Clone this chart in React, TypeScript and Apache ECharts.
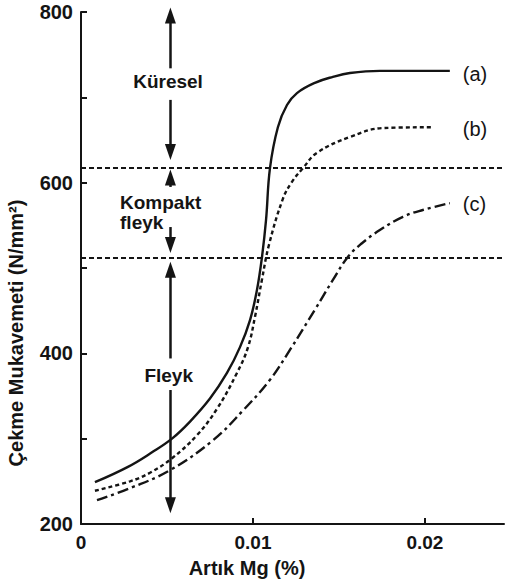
import React, { useEffect, useRef } from 'react';
import * as echarts from 'echarts';

const xTickLabels = [0, 0.01, 0.02];
const yTickLabels = [200, 400, 600, 800];

const curveA: [number, number][] = [
  [0.00081, 249], [0.00273, 267], [0.00413, 284], [0.00529, 300], [0.00634, 320],
  [0.0075, 347], [0.00849, 377], [0.00924, 407], [0.00983, 439], [0.01023, 474],
  [0.01052, 512], [0.01076, 556], [0.01099, 617], [0.01145, 665], [0.01198, 691],
  [0.01256, 705], [0.0136, 717], [0.01465, 724], [0.01564, 728.5], [0.01738, 731],
  [0.01971, 731], [0.02145, 731],
];
const curveB: [number, number][] = [
  [0.00081, 239], [0.00285, 250], [0.00401, 260], [0.00529, 277], [0.00674, 304],
  [0.00791, 335], [0.00907, 377], [0.00971, 407], [0.01012, 443], [0.01052, 486],
  [0.01093, 527], [0.01174, 581], [0.01227, 601], [0.01291, 617], [0.01372, 635],
  [0.01564, 653.5], [0.01756, 664], [0.02047, 665],
];
const curveC: [number, number][] = [
  [0.00093, 228], [0.00285, 242], [0.00517, 263], [0.00767, 298], [0.00942, 333],
  [0.01099, 369], [0.01215, 404], [0.0136, 451], [0.01465, 486], [0.01552, 513],
  [0.01634, 529], [0.01738, 544.5], [0.01872, 560], [0.01988, 568], [0.02145, 576],
];
const boundaryLevels = [617, 512];
const arrowX = 0.0052;
// [start, tip]
const arrowSegments: [number, number][] = [
  [734, 796], [697, 636], [595, 606], [548, 527], [394, 498], [357, 222],
];
const regionLabels = [
  { text: 'Küresel', x: 0.00506, y: 719, align: 'center' },
  { text: 'Kompakt', x: 0.00227, y: 577, align: 'left' },
  { text: 'fleyk', x: 0.00227, y: 553, align: 'left' },
  { text: 'Fleyk', x: 0.0051, y: 374, align: 'center' },
];
const curveLabelX = 0.0222;
const curveLabels = [
  { text: '(a)', y: 727 },
  { text: '(b)', y: 663 },
  { text: '(c)', y: 575 },
];

const FONT = "'Liberation Sans', Arial, Helvetica, sans-serif";
const INK = '#141414';

export default function App() {
  const ref = useRef<HTMLDivElement>(null);
  useEffect(() => {
    if (!ref.current) return;
    const chart = echarts.init(ref.current, undefined, { renderer: 'svg' });
    const txt = { fontFamily: FONT, fontWeight: 'bold' as const, fontSize: 19, color: INK };
    chart.setOption({
      animation: false,
      backgroundColor: '#ffffff',
      grid: { left: 81, right: 1, top: 12, bottom: 60, containLabel: false },
      xAxis: {
        type: 'value', min: 0, max: 0.0246, interval: 0.01,
        axisLine: { show: true, lineStyle: { color: INK, width: 2 } },
        axisTick: { show: true, inside: true, length: 6, lineStyle: { color: INK, width: 2 } },
        splitLine: { show: false },
        axisLabel: {
          ...txt, margin: 9, showMaxLabel: false,
          formatter: (v: number) => {
            const m = xTickLabels.find((t) => Math.abs(t - v) < 1e-7);
            return m === undefined ? '' : String(m);
          },
        },
      },
      yAxis: {
        type: 'value', min: 200, max: 800, interval: 100,
        axisLine: { show: true, lineStyle: { color: INK, width: 2 } },
        axisTick: { show: true, inside: true, length: 6, lineStyle: { color: INK, width: 2 } },
        splitLine: { show: false },
        axisLabel: {
          ...txt, fontSize: 20, margin: 8,
          formatter: (v: number) => (yTickLabels.includes(v) ? String(v) : ''),
        },
      },
      graphic: [
        {
          type: 'text', x: 247, y: 568,
          style: { text: 'Artık Mg (%)', fill: INK, font: `bold 20px ${FONT}`, align: 'center', verticalAlign: 'middle' },
        },
        {
          type: 'text', x: 16, y: 333, rotation: Math.PI / 2,
          style: { text: 'Çekme Mukavemeti (N/mm²)', fill: INK, font: `bold 20px ${FONT}`, align: 'center', verticalAlign: 'middle' },
        },
      ],
      series: [
        {
          name: 'a', type: 'line', data: curveA, smooth: 0.4, symbol: 'none',
          lineStyle: { color: INK, width: 2.4, type: 'solid' },
        },
        {
          name: 'b', type: 'line', data: curveB, smooth: 0.4, symbol: 'none',
          lineStyle: { color: INK, width: 2.4, type: [4, 3] },
        },
        {
          name: 'c', type: 'line', data: curveC, smooth: 0.4, symbol: 'none',
          lineStyle: { color: INK, width: 2.4, type: [11, 4, 3, 4] },
        },
        {
          name: 'boundaries', type: 'line', data: [], clip: false, symbol: 'none',
          markLine: {
            silent: true, animation: false,
            label: { show: false },
            symbol: ['none', 'none'],
            lineStyle: { color: INK, width: 2, type: [5, 3] },
            data: boundaryLevels.map((y) => ({ yAxis: y })),
          },
        },
        {
          name: 'arrows', type: 'line', data: [], clip: false, symbol: 'none',
          markLine: {
            silent: true, animation: false,
            label: { show: false },
            symbol: ['none', 'triangle'],
            symbolSize: [11, 16],
            lineStyle: { color: INK, width: 2.5, type: 'solid' },
            data: arrowSegments.map(([a, b]) => [
              { coord: [arrowX, a] },
              { coord: [arrowX, b] },
            ]),
          },
        },
        {
          name: 'labels', type: 'line', data: [], clip: false, symbol: 'none',
          markPoint: {
            silent: true, animation: false,
            symbol: 'circle', symbolSize: 1,
            itemStyle: { color: 'rgba(0,0,0,0)' },
            data: [
              ...regionLabels.map((r) => ({
                coord: [r.x, r.y],
                label: { show: true, formatter: r.text, ...txt, align: r.align, verticalAlign: 'middle', position: 'inside' },
              })),
              ...curveLabels.map((c) => ({
                coord: [curveLabelX, c.y],
                label: { show: true, formatter: c.text, ...txt, fontWeight: 'normal', fontSize: 20, align: 'left', verticalAlign: 'middle', position: 'inside' },
              })),
            ],
          },
        },
      ],
    });
    return () => chart.dispose();
  }, []);
  return <div ref={ref} style={{ position: 'absolute', left: 0, top: 0, width: 505, height: 584, background: '#fff' }} />;
}
